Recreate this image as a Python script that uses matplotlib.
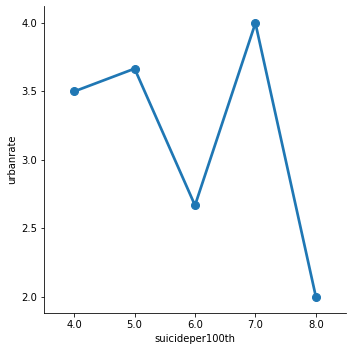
import matplotlib
matplotlib.use("Agg")
import matplotlib.pyplot as plt

categories = ["4.0", "5.0", "6.0", "7.0", "8.0"]
urbanrate = [3.5, 3.6667, 2.6667, 4.0, 2.0]

fig = plt.figure(figsize=(352 / 72, 352 / 72), dpi=72)
ax = fig.add_axes([0.125, 0.111, 0.858, 0.872])

x = list(range(len(categories)))
ax.plot(x, urbanrate, color="#1f77b4", linewidth=2.7, marker="o", markersize=8)
ax.set_xticks(x)
ax.set_xticklabels(categories)
ax.set_xlim(-0.5, len(categories) - 0.5)
ax.set_ylim(1.88, 4.125)
ax.set_yticks([2.0, 2.5, 3.0, 3.5, 4.0])
ax.set_xlabel("suicideper100th")
ax.set_ylabel("urbanrate")
ax.spines["top"].set_visible(False)
ax.spines["right"].set_visible(False)

fig.savefig("out.png", dpi=72)
